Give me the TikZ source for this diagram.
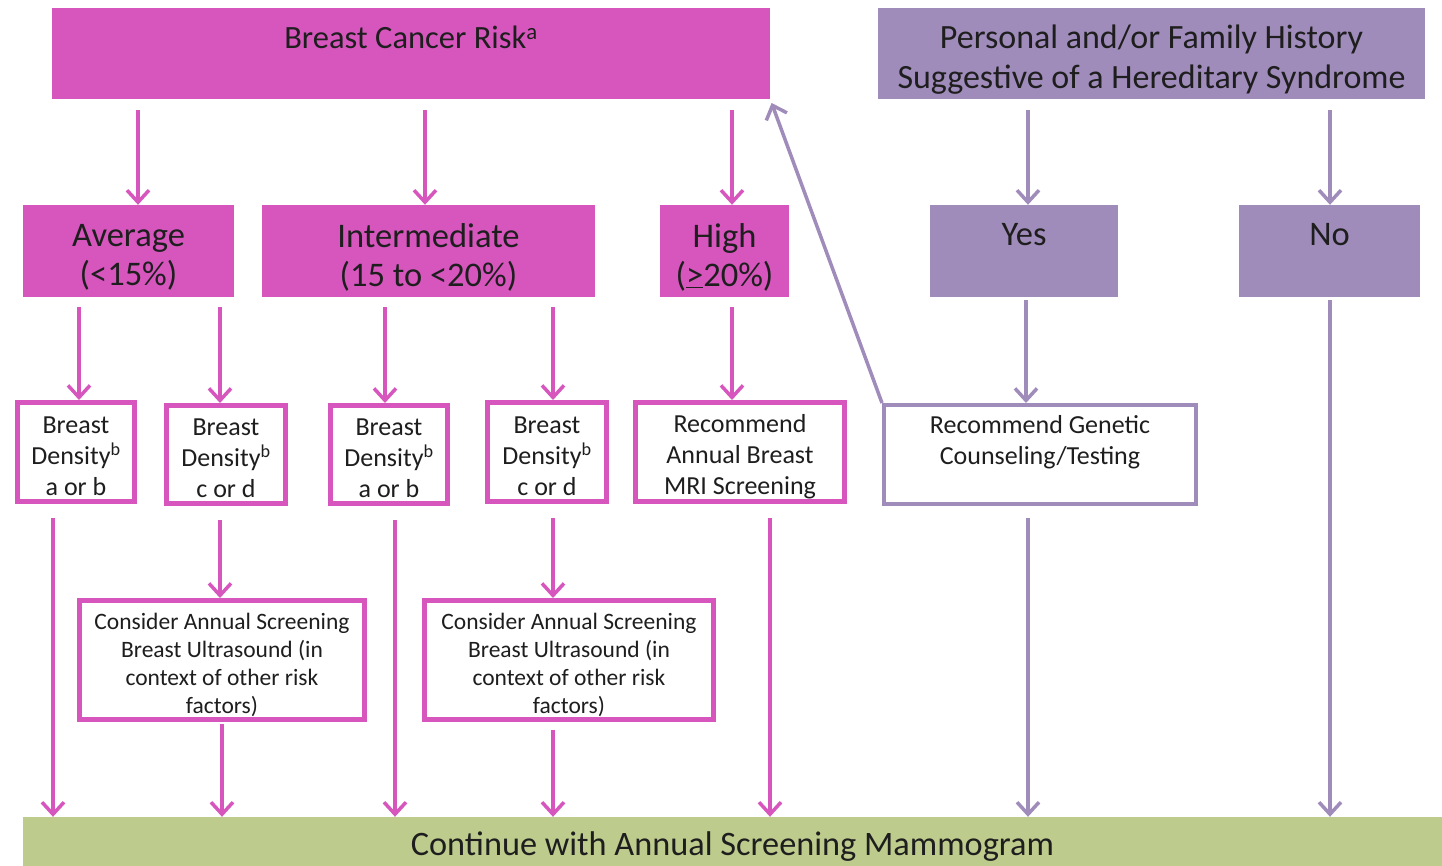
\documentclass[tikz,border=0pt]{standalone}
\usepackage{fontspec}
\setmainfont{Carlito}
\usetikzlibrary{arrows.meta}
\definecolor{riskpink}{RGB}{214,86,190}
\definecolor{histlilac}{RGB}{160,140,187}
\definecolor{contgreen}{RGB}{189,204,141}
\definecolor{ink}{RGB}{30,30,30}
\tikzset{
  x=1pt, y=-1pt,
  every node/.style={inner sep=0pt, text=ink, align=center},
  pinkfill/.style={fill=riskpink, draw=none},
  lilacfill/.style={fill=histlilac, draw=none},
  pinkframe/.style={fill=white, draw=riskpink, line width=5pt},
  lilacframe/.style={fill=white, draw=histlilac, line width=4pt},
  headtext/.style={font=\fontsize{32.5}{40}\selectfont},
  histtext/.style={font=\fontsize{34}{40}\selectfont},
  cattext/.style={font=\fontsize{34.5}{39}\selectfont},
  boxtext/.style={font=\fontsize{26}{31}\selectfont},
  ustext/.style={font=\fontsize{23.5}{28}\selectfont},
  conttext/.style={font=\fontsize{34.3}{40}\selectfont},
  pinkarrow/.style={draw=riskpink, line width=3.5pt, -{Straight Barb[length=12pt,width=22pt]}},
  lilacarrow/.style={draw=histlilac, line width=3.5pt, -{Straight Barb[length=12pt,width=22pt]}},
}
\begin{document}
\begin{tikzpicture}
\useasboundingbox (0,0) rectangle (1442,866);
\fill[white] (0,0) rectangle (1442,866);

% top row
\node[pinkfill, minimum width=718pt, minimum height=91pt,
  label={[name=riskt, headtext, yshift=16pt]center:{Breast Cancer Risk\textsuperscript{a}}}] (risk) at (411,53.5) {};
\node[lilacfill, minimum width=547pt, minimum height=91pt,
  label={[name=histt, histtext, yshift=-6pt]center:{Personal and/or Family History\\Suggestive of a Hereditary Syndrome}}] (hist) at (1151.5,53.5) {};

% risk categories
\node[pinkfill, minimum width=211pt, minimum height=92pt,
  label={[name=avgt, cattext, yshift=-6pt]center:{Average\\(<15\%)}}] (avg) at (128.5,251) {};
\node[pinkfill, minimum width=333pt, minimum height=92pt,
  label={[name=intert, cattext, yshift=-6pt]center:{Intermediate\\(15 to <20\%)}}] (inter) at (428.5,251) {};
\node[pinkfill, minimum width=129pt, minimum height=92pt,
  label={[name=hight, cattext, yshift=-6pt]center:{High\\(\underline{>}20\%)}}] (high) at (724.5,251) {};
\node[lilacfill, minimum width=188pt, minimum height=92pt,
  label={[name=yest, cattext, yshift=16pt]center:{Yes}}] (yes) at (1024,251) {};
\node[lilacfill, minimum width=181pt, minimum height=92pt,
  label={[name=not, cattext, yshift=16pt]center:{No}}] (no) at (1329.5,251) {};

% density and recommendation boxes
\node[pinkframe, minimum width=117pt, minimum height=99pt,
  label={[name=d1t, boxtext, yshift=-4pt]center:{Breast\\Density\textsuperscript{b}\\a or b}}] (d1) at (76,452) {};
\node[pinkframe, minimum width=119pt, minimum height=98pt,
  label={[name=d2t, boxtext, yshift=-4pt]center:{Breast\\Density\textsuperscript{b}\\c or d}}] (d2) at (226,454.5) {};
\node[pinkframe, minimum width=117pt, minimum height=98pt,
  label={[name=d3t, boxtext, yshift=-4pt]center:{Breast\\Density\textsuperscript{b}\\a or b}}] (d3) at (389,454.5) {};
\node[pinkframe, minimum width=119pt, minimum height=99pt,
  label={[name=d4t, boxtext, yshift=-4pt]center:{Breast\\Density\textsuperscript{b}\\c or d}}] (d4) at (547,452) {};
\node[pinkframe, minimum width=209pt, minimum height=99pt,
  label={[name=mrit, boxtext, yshift=-5pt]center:{Recommend\\Annual Breast\\MRI Screening}}] (mri) at (740,452) {};
\node[lilacframe, minimum width=312pt, minimum height=99pt,
  label={[name=gent, boxtext, yshift=12pt]center:{Recommend Genetic\\Counseling/Testing}}] (gen) at (1040,454.5) {};

% ultrasound boxes
\node[pinkframe, minimum width=285pt, minimum height=119pt,
  label={[name=us1t, ustext, yshift=-5pt]center:{Consider Annual Screening\\Breast Ultrasound (in\\context of other risk\\factors)}}] (us1) at (222,660) {};
\node[pinkframe, minimum width=289pt, minimum height=119pt,
  label={[name=us2t, ustext, yshift=-5pt]center:{Consider Annual Screening\\Breast Ultrasound (in\\context of other risk\\factors)}}] (us2) at (569,660) {};

% common outcome
\node[fill=contgreen, minimum width=1419pt, minimum height=49pt,
  label={[name=contt, conttext, yshift=-5pt]center:{Continue with Annual Screening Mammogram}}] (cont) at (732.5,841.5) {};

% risk -> categories
\draw[pinkarrow, shorten <=11pt] (risk.south -| 138,0) -- (avg.north -| 138,0);
\draw[pinkarrow, shorten <=11pt] (risk.south -| 425,0) -- (inter.north -| 425,0);
\draw[pinkarrow, shorten <=11pt] (risk.south -| 732,0) -- (high.north -| 732,0);
\draw[lilacarrow, shorten <=11pt] (hist.south -| 1028,0) -- (yes.north -| 1028,0);
\draw[lilacarrow, shorten <=11pt] (hist.south -| 1330,0) -- (no.north -| 1330,0);

% categories -> density / recommendations
\draw[pinkarrow, shorten <=10pt] (avg.south -| 79,0) -- (d1.north -| 79,0);
\draw[pinkarrow, shorten <=10pt] (avg.south -| 220,0) -- (d2.north -| 220,0);
\draw[pinkarrow, shorten <=10pt] (inter.south -| 385,0) -- (d3.north -| 385,0);
\draw[pinkarrow, shorten <=10pt] (inter.south -| 553,0) -- (d4.north -| 553,0);
\draw[pinkarrow, shorten <=10pt] (high.south -| 732,0) -- (mri.north -| 732,0);
\draw[lilacarrow, shorten <=3pt] (yes.south -| 1026,0) -- (gen.north -| 1026,0);

% genetic counselling loops back to the risk assessment
\draw[lilacarrow, shorten >=4pt] (gen.north west) -- (risk.south east);

% dense breasts -> ultrasound
\draw[pinkarrow, shorten <=14pt] (d2.south -| 220,0) -- (us1.north -| 220,0);
\draw[pinkarrow, shorten <=14pt] (d4.south -| 553,0) -- (us2.north -| 553,0);

% everything -> annual mammogram
\draw[pinkarrow, shorten <=14pt] (d1.south -| 53,0) -- (cont.north -| 53,0);
\draw[pinkarrow, shorten <=2pt] (us1.south -| 222,0) -- (cont.north -| 222,0);
\draw[pinkarrow, shorten <=14pt] (d3.south -| 395,0) -- (cont.north -| 395,0);
\draw[pinkarrow, shorten <=8pt] (us2.south -| 553,0) -- (cont.north -| 553,0);
\draw[pinkarrow, shorten <=14pt] (mri.south -| 770,0) -- (cont.north -| 770,0);
\draw[lilacarrow, shorten <=12pt] (gen.south -| 1028,0) -- (cont.north -| 1028,0);
\draw[lilacarrow, shorten <=3pt] (no.south -| 1330,0) -- (cont.north -| 1330,0);
\end{tikzpicture}
\end{document}
